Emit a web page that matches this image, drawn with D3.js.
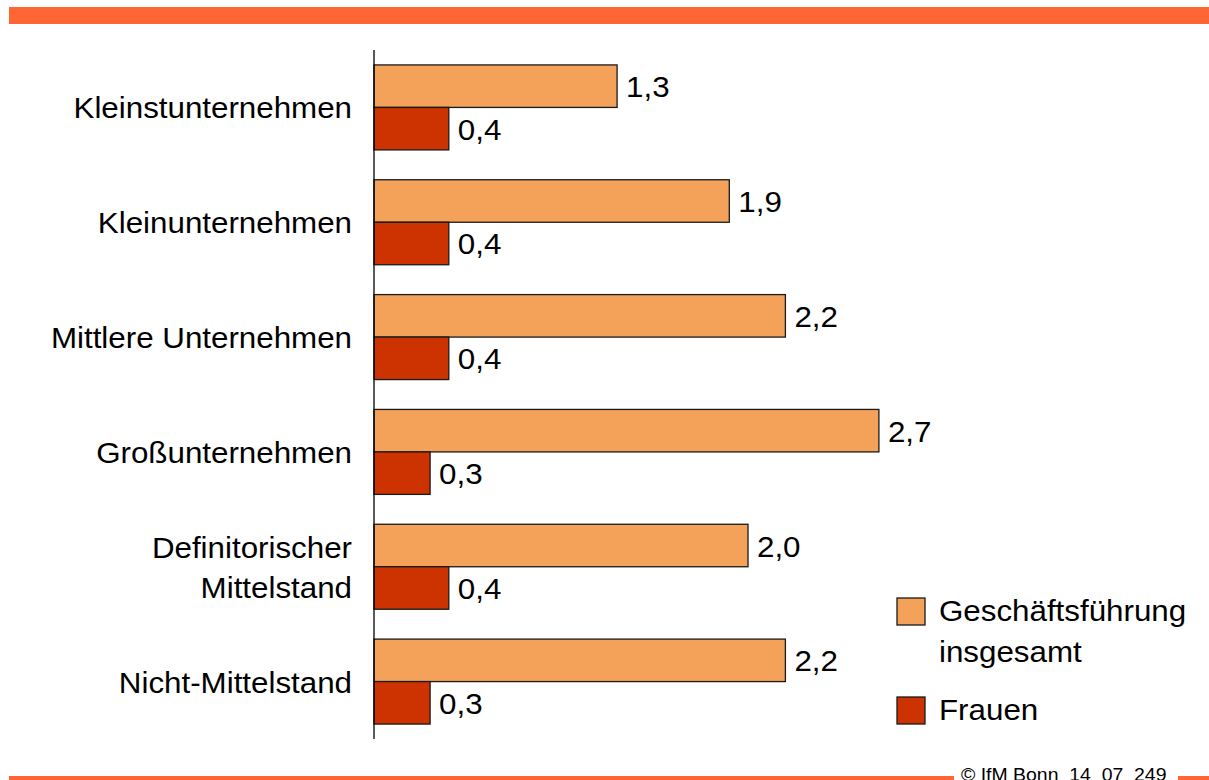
<!DOCTYPE html>
<html>
<head>
<meta charset="utf-8">
<script src="https://cdn.jsdelivr.net/npm/d3@7"></script>
<style>
  body { margin: 0; background: #fff; }
  svg text { font-family: "Liberation Sans", Arial, sans-serif; fill: #000; }
</style>
</head>
<body>
<div id="chart"></div>
<script>
// data
const categories = [
  ['Kleinstunternehmen'],
  ['Kleinunternehmen'],
  ['Mittlere Unternehmen'],
  ['Großunternehmen'],
  ['Definitorischer', 'Mittelstand'],
  ['Nicht-Mittelstand']
];
const seriesNames = ['Geschäftsführung insgesamt', 'Frauen'];
const gesamt = [1.3, 1.9, 2.2, 2.7, 2.0, 2.2];
const frauen = [0.4, 0.4, 0.4, 0.3, 0.4, 0.3];
const legendLines = [['Geschäftsführung', 'insgesamt'], ['Frauen']];
const colors = ['#F4A25A', '#CC3300'];
const footer = '© IfM Bonn  14  07  249';

const width = 1209, height = 780;
const axisX = 374, plotTop = 50, plotBottom = 739;
const sx = 1.08; // the slide text is a little wider than plain Arial

const svg = d3.select('#chart').append('svg')
  .attr('width', width)
  .attr('height', height);

// text helper: position via transform so it can be stretched a bit
function label(sel, x, y, txt, size, anchor) {
  return sel.append('text')
    .attr('transform', `translate(${x},${y}) scale(${sx},1)`)
    .attr('text-anchor', anchor || 'start')
    .style('font-size', size + 'px')
    .style('white-space', 'pre')
    .text(txt);
}

// header / footer decoration
svg.append('rect').attr('x', 9).attr('y', 7).attr('width', width - 9).attr('height', 17).style('fill', '#FF6633');
svg.append('rect').attr('x', 9).attr('y', 776).attr('width', 945).attr('height', 8).style('fill', '#FF6633');
svg.append('rect').attr('x', 1178).attr('y', 776).attr('width', 31).attr('height', 8).style('fill', '#FF6633');
label(svg, 961, 781, footer, 18);

const rows = categories.map((c, i) => ({ label: c, key: c.join(' '), values: [gesamt[i], frauen[i]] }));

const y = d3.scaleBand()
  .domain(rows.map(d => d.key))
  .range([plotTop, plotBottom])
  .paddingInner(0.26)
  .paddingOuter(0.13);

const ySub = d3.scaleBand()
  .domain(seriesNames)
  .range([0, y.bandwidth()]);

const x = d3.scaleLinear().domain([0, 3]).range([axisX, axisX + 3 * 187]);

const groups = svg.selectAll('.group').data(rows).enter().append('g')
  .attr('class', 'group')
  .attr('transform', d => `translate(0,${y(d.key)})`);

groups.selectAll('rect')
  .data(d => d.values.map((v, j) => ({ v, s: seriesNames[j], j })))
  .enter().append('rect')
  .attr('x', x(0))
  .attr('y', d => ySub(d.s))
  .attr('width', d => x(d.v) - x(0))
  .attr('height', ySub.bandwidth())
  .style('fill', d => colors[d.j])
  .style('stroke', '#1a1a1a')
  .style('stroke-width', 1.3);

// value labels + category labels
groups.each(function (d) {
  const g = d3.select(this);
  d.values.forEach((v, j) => {
    label(g, x(v) + 9, ySub(seriesNames[j]) + ySub.bandwidth() / 2 + 11,
      v.toFixed(1).replace('.', ','), 29);
  });
  const c = y.bandwidth() / 2;
  const n = d.label.length;
  d.label.forEach((line, k) => {
    label(g, 352, c + 11 + (k - (n - 1) / 2) * 40, line, 29, 'end');
  });
});

// axis line
svg.append('line')
  .attr('x1', axisX).attr('x2', axisX)
  .attr('y1', plotTop).attr('y2', plotBottom)
  .style('stroke', '#000')
  .style('stroke-width', 1.3);

// legend
const legendY = [598, 697];
const legend = svg.selectAll('.legend').data(seriesNames).enter().append('g')
  .attr('class', 'legend')
  .attr('transform', (d, i) => `translate(897,${legendY[i]})`);
legend.append('rect')
  .attr('width', 28).attr('height', 27)
  .style('fill', (d, i) => colors[i])
  .style('stroke', '#1a1a1a')
  .style('stroke-width', 1.3);
legend.each(function (d, i) {
  legendLines[i].forEach((line, k) => {
    label(d3.select(this), 42, 23 + k * 41, line, 29);
  });
});
</script>
</body>
</html>
